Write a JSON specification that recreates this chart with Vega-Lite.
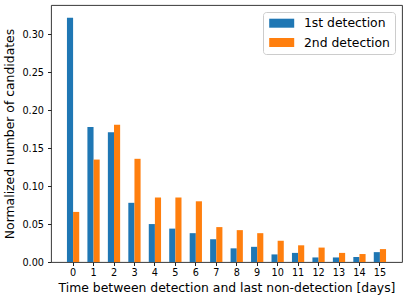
{
  "$schema": "https://vega.github.io/schema/vega-lite/v6.json",
  "autosize": "none",
  "padding": {"left": 51, "top": 5, "right": 5, "bottom": 37},
  "width": 351,
  "height": 257,
  "background": "white",
  "config": {
    "font": "DejaVu Sans",
    "view": {"stroke": "#222", "strokeWidth": 0.9},
    "axis": {"grid": false, "domain": false, "tickColor": "#222", "labelColor": "black", "titleColor": "black", "titleFontWeight": "normal", "labelFont": "DejaVu Sans", "titleFont": "DejaVu Sans"}
  },
  "data": {"values": [
    {"days": 0, "series": "1st detection", "value": 0.322},
    {"days": 0, "series": "2nd detection", "value": 0.066},
    {"days": 1, "series": "1st detection", "value": 0.178},
    {"days": 1, "series": "2nd detection", "value": 0.135},
    {"days": 2, "series": "1st detection", "value": 0.171},
    {"days": 2, "series": "2nd detection", "value": 0.181},
    {"days": 3, "series": "1st detection", "value": 0.078},
    {"days": 3, "series": "2nd detection", "value": 0.136},
    {"days": 4, "series": "1st detection", "value": 0.050},
    {"days": 4, "series": "2nd detection", "value": 0.085},
    {"days": 5, "series": "1st detection", "value": 0.044},
    {"days": 5, "series": "2nd detection", "value": 0.085},
    {"days": 6, "series": "1st detection", "value": 0.038},
    {"days": 6, "series": "2nd detection", "value": 0.080},
    {"days": 7, "series": "1st detection", "value": 0.030},
    {"days": 7, "series": "2nd detection", "value": 0.046},
    {"days": 8, "series": "1st detection", "value": 0.018},
    {"days": 8, "series": "2nd detection", "value": 0.042},
    {"days": 9, "series": "1st detection", "value": 0.020},
    {"days": 9, "series": "2nd detection", "value": 0.038},
    {"days": 10, "series": "1st detection", "value": 0.010},
    {"days": 10, "series": "2nd detection", "value": 0.028},
    {"days": 11, "series": "1st detection", "value": 0.012},
    {"days": 11, "series": "2nd detection", "value": 0.022},
    {"days": 12, "series": "1st detection", "value": 0.006},
    {"days": 12, "series": "2nd detection", "value": 0.019},
    {"days": 13, "series": "1st detection", "value": 0.006},
    {"days": 13, "series": "2nd detection", "value": 0.012},
    {"days": 14, "series": "1st detection", "value": 0.0066},
    {"days": 14, "series": "2nd detection", "value": 0.0105},
    {"days": 15, "series": "1st detection", "value": 0.013},
    {"days": 15, "series": "2nd detection", "value": 0.017}
  ]},
  "mark": {"type": "bar"},
  "encoding": {
    "x": {
      "field": "days", "type": "ordinal", "sort": "ascending",
      "scale": {"paddingInner": 0.4, "paddingOuter": 0.78},
      "axis": {"title": "Time between detection and last non-detection [days]", "labelAngle": 0, "labelFontSize": 9.7, "titleFontSize": 12.4, "tickSize": 3.5, "labelPadding": 2, "titlePadding": 4}
    },
    "xOffset": {"field": "series", "type": "nominal", "scale": {"paddingInner": 0, "paddingOuter": 0}},
    "y": {
      "field": "value", "type": "quantitative",
      "scale": {"domain": [0, 0.3387], "nice": false, "zero": true},
      "axis": {"title": "Normalized number of candidates", "values": [0, 0.05, 0.1, 0.15, 0.2, 0.25, 0.3], "format": ".2f", "labelFontSize": 9.7, "titleFontSize": 12.4, "tickSize": 3.5, "labelPadding": 4, "titlePadding": 5}
    },
    "color": {
      "field": "series", "type": "nominal",
      "scale": {"domain": ["1st detection", "2nd detection"], "range": ["#1f77b4", "#ff7f0e"]},
      "legend": {
        "title": null, "orient": "none", "legendX": 212, "legendY": 7,
        "symbolType": "M-2.5,-0.9H2.5V0.9H-2.5Z", "symbolSize": 100, "symbolStrokeWidth": 0,
        "symbolOffset": 7.5,
        "labelFontSize": 12.4, "labelOffset": 16, "labelColor": "black",
        "padding": 5, "rowPadding": 6.3, "strokeColor": "#cccccc", "fillColor": "white", "cornerRadius": 3
      }
    }
  }
}
